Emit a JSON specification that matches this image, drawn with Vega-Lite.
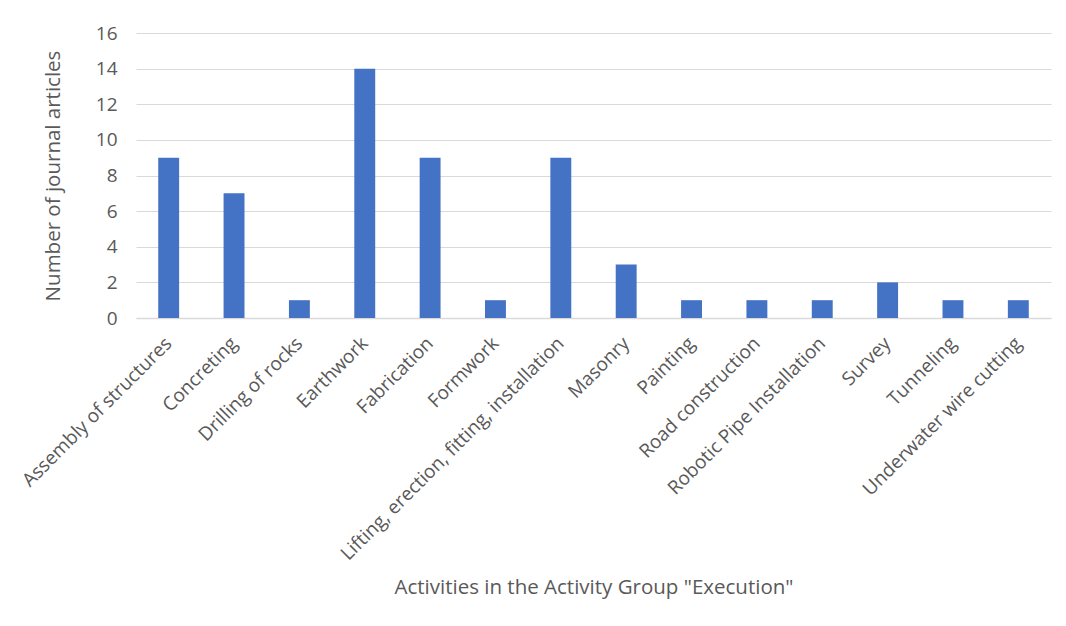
{
  "$schema": "https://vega.github.io/schema/vega-lite/v6.json",
  "autosize": "none",
  "width": 915,
  "height": 285,
  "padding": {"left": 136, "top": 33, "right": 15, "bottom": 308},
  "background": "white",
  "config": {
    "font": "Open Sans",
    "view": {"stroke": null},
    "axis": {"labelColor": "#595959", "titleColor": "#595959", "labelFont": "Open Sans", "titleFont": "Open Sans", "titleFontWeight": "normal"}
  },
  "data": {
    "values": [
      {"activity": "Assembly of structures", "count": 9},
      {"activity": "Concreting", "count": 7},
      {"activity": "Drilling of rocks", "count": 1},
      {"activity": "Earthwork", "count": 14},
      {"activity": "Fabrication", "count": 9},
      {"activity": "Formwork", "count": 1},
      {"activity": "Lifting, erection, fitting, installation", "count": 9},
      {"activity": "Masonry", "count": 3},
      {"activity": "Painting", "count": 1},
      {"activity": "Road construction", "count": 1},
      {"activity": "Robotic Pipe Installation", "count": 1},
      {"activity": "Survey", "count": 2},
      {"activity": "Tunneling", "count": 1},
      {"activity": "Underwater wire cutting", "count": 1}
    ]
  },
  "mark": {"type": "bar", "color": "#4472C4"},
  "encoding": {
    "x": {
      "field": "activity",
      "type": "nominal",
      "sort": null,
      "scale": {"paddingInner": 0.68, "paddingOuter": 0.34},
      "axis": {
        "title": "Activities in the Activity Group \"Execution\"",
        "titleFontSize": 20.5,
        "titleY": 269,
        "titleBaseline": "middle",
        "labelAngle": -45,
        "labelAlign": "right",
        "labelBaseline": "middle",
        "labelFontSize": 19,
        "labelPadding": 22,
        "labelDx": 3,
        "labelLimit": 500,
        "ticks": false,
        "domainColor": "#d9d9d9",
        "domainWidth": 1.5
      }
    },
    "y": {
      "field": "count",
      "type": "quantitative",
      "scale": {"domain": [0, 16]},
      "axis": {
        "title": "Number of journal  articles",
        "titleFontSize": 20.5,
        "titleX": -83,
        "titleBaseline": "middle",
        "values": [0, 2, 4, 6, 8, 10, 12, 14, 16],
        "labelFontSize": 19,
        "labelPadding": 19,
        "ticks": false,
        "domain": false,
        "gridColor": "#d9d9d9",
        "gridWidth": 1.2
      }
    }
  }
}
